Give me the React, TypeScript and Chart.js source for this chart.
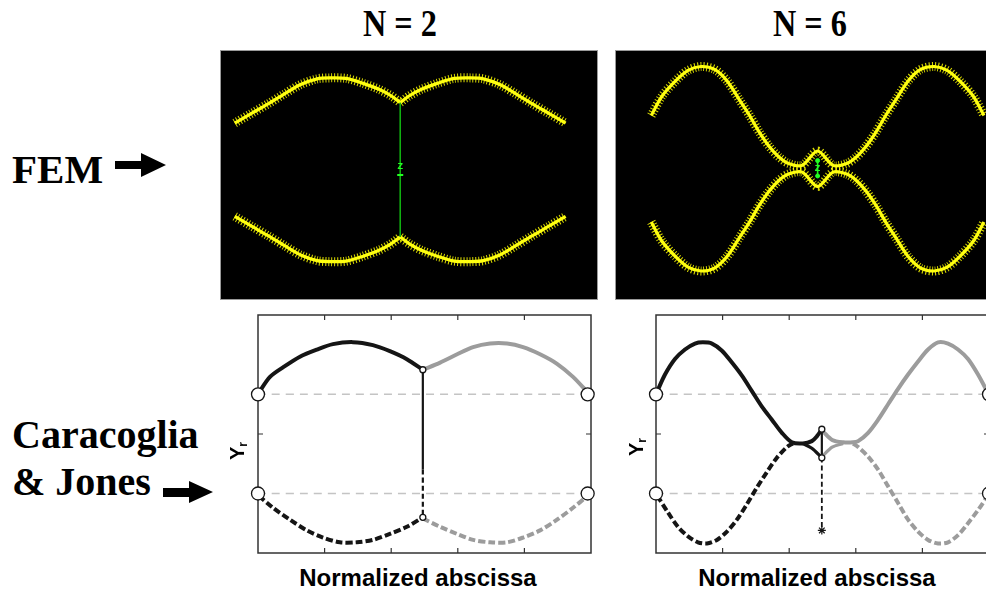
import React, { useEffect, useRef } from 'react';
import { Chart, registerables } from 'chart.js';
Chart.register(...registerables);

type P = [number, number];

// ---------- FEM, N = 2 (normalized x 0..1, y 0..1) ----------
const femN2UpperLeft: P[] = [[0.024,0.718],[0.071,0.76],[0.116,0.80],[0.159,0.84],[0.204,0.88],[0.249,0.904],[0.283,0.908],[0.328,0.906],[0.373,0.886],[0.418,0.86],[0.452,0.832],[0.476,0.804]];
const femN2UpperRight: P[] = [[0.476,0.804],[0.500,0.832],[0.534,0.86],[0.579,0.886],[0.624,0.906],[0.669,0.908],[0.703,0.904],[0.748,0.88],[0.793,0.84],[0.836,0.80],[0.881,0.76],[0.928,0.718]];
const femN2LowerLeft: P[] = [[0.024,0.326],[0.071,0.284],[0.116,0.244],[0.159,0.204],[0.204,0.164],[0.249,0.14],[0.283,0.136],[0.328,0.138],[0.373,0.158],[0.418,0.184],[0.452,0.212],[0.476,0.24]];
const femN2LowerRight: P[] = [[0.476,0.24],[0.500,0.212],[0.534,0.184],[0.579,0.158],[0.624,0.138],[0.669,0.136],[0.703,0.14],[0.748,0.164],[0.793,0.204],[0.836,0.244],[0.881,0.284],[0.928,0.326]];
const femN2Link: P[] = [[0.476,0.804],[0.476,0.24]];
const femN2Marker: P[] = [[0.476,0.536]];
const femN2Dash: P[] = [[0.476,0.50]];

// ---------- FEM, N = 6 ----------
const femN6Upper: P[] = [[0.085,0.748],[0.114,0.828],[0.151,0.892],[0.185,0.936],[0.220,0.952],[0.257,0.94],[0.291,0.892],[0.325,0.812],[0.352,0.748],[0.378,0.68],[0.405,0.62],[0.431,0.576],[0.458,0.548],[0.495,0.54],[0.537,0.60],[0.579,0.54],[0.616,0.548],[0.643,0.576],[0.669,0.62],[0.696,0.68],[0.722,0.748],[0.749,0.812],[0.783,0.892],[0.817,0.94],[0.854,0.952],[0.889,0.936],[0.923,0.892],[0.960,0.828],[0.989,0.748]];
const femN6Lower: P[] = [[0.085,0.304],[0.114,0.224],[0.151,0.16],[0.185,0.116],[0.220,0.10],[0.257,0.112],[0.291,0.16],[0.325,0.24],[0.352,0.304],[0.378,0.372],[0.405,0.432],[0.431,0.476],[0.458,0.504],[0.495,0.512],[0.537,0.452],[0.579,0.512],[0.616,0.504],[0.643,0.476],[0.669,0.432],[0.696,0.372],[0.722,0.304],[0.749,0.24],[0.783,0.16],[0.817,0.112],[0.854,0.10],[0.889,0.116],[0.923,0.16],[0.960,0.224],[0.989,0.304]];
const femN6Link: P[] = [[0.537,0.56],[0.537,0.496]];
const femN6Marker: P[] = [[0.537,0.528]];

// ---------- Caracoglia & Jones, N = 2 (x 0..1, y -1..1) ----------
const cjN2UpperBlack: P[] = [[0.003,0.35],[0.036,0.48],[0.075,0.56],[0.126,0.65],[0.177,0.71],[0.225,0.755],[0.285,0.772],[0.345,0.747],[0.396,0.696],[0.447,0.629],[0.495,0.54]];
const cjN2UpperGray: P[] = [[0.495,0.54],[0.547,0.60],[0.598,0.67],[0.646,0.73],[0.697,0.76],[0.748,0.76],[0.796,0.73],[0.847,0.67],[0.898,0.59],[0.946,0.48],[0.99,0.35]];
const cjN2LowerBlack: P[] = [[0.003,-0.52],[0.045,-0.62],[0.096,-0.72],[0.147,-0.81],[0.195,-0.87],[0.246,-0.91],[0.297,-0.91],[0.345,-0.89],[0.396,-0.84],[0.447,-0.78],[0.495,-0.70]];
const cjN2LowerGray: P[] = [[0.495,-0.71],[0.547,-0.78],[0.598,-0.84],[0.646,-0.89],[0.697,-0.91],[0.748,-0.91],[0.796,-0.87],[0.847,-0.81],[0.898,-0.72],[0.946,-0.62],[0.99,-0.52]];
const cjN2LinkSolid: P[] = [[0.495,0.54],[0.495,-0.30]];
const cjN2LinkDashed: P[] = [[0.495,-0.30],[0.495,-0.70]];
const cjN2Junctions: P[] = [[0.495,0.54],[0.495,-0.70]];
const cjN2Ends: P[] = [[0.0,0.333],[0.99,0.333],[0.0,-0.50],[0.99,-0.50]];

// ---------- Caracoglia & Jones, N = 6 ----------
const cjN6UpperBlack: P[] = [[0.004,0.36],[0.027,0.50],[0.057,0.63],[0.087,0.71],[0.117,0.76],[0.141,0.77],[0.168,0.76],[0.198,0.70],[0.228,0.60],[0.258,0.49],[0.288,0.36],[0.318,0.23],[0.348,0.12],[0.378,0.01],[0.408,-0.07],[0.441,-0.08],[0.468,-0.06],[0.483,-0.02],[0.498,0.04]];
const cjN6BranchBlack: P[] = [[0.441,-0.08],[0.468,-0.12],[0.498,-0.20]];
const cjN6LowerBlack: P[] = [[0.004,-0.52],[0.036,-0.66],[0.066,-0.78],[0.096,-0.86],[0.126,-0.91],[0.153,-0.92],[0.183,-0.89],[0.213,-0.82],[0.243,-0.72],[0.273,-0.59],[0.303,-0.45],[0.333,-0.32],[0.363,-0.20],[0.393,-0.11],[0.411,-0.08]];
const cjN6UpperGray: P[] = [[0.502,0.02],[0.529,-0.05],[0.562,-0.07],[0.592,-0.07],[0.607,-0.06],[0.637,0.01],[0.667,0.12],[0.697,0.25],[0.727,0.38],[0.757,0.50],[0.787,0.61],[0.817,0.71],[0.847,0.77],[0.877,0.76],[0.907,0.71],[0.937,0.63],[0.967,0.50],[0.996,0.35]];
const cjN6BranchGray: P[] = [[0.502,-0.18],[0.529,-0.11],[0.562,-0.08]];
const cjN6LowerGray: P[] = [[0.592,-0.08],[0.607,-0.11],[0.637,-0.19],[0.667,-0.30],[0.697,-0.44],[0.727,-0.58],[0.757,-0.72],[0.787,-0.82],[0.817,-0.89],[0.847,-0.92],[0.877,-0.91],[0.907,-0.85],[0.937,-0.75],[0.967,-0.64],[0.996,-0.52]];
const cjN6Link: P[] = [[0.498,0.04],[0.498,-0.20]];
const cjN6Drop: P[] = [[0.498,-0.20],[0.498,-0.81]];
const cjN6Star: P[] = [[0.498,-0.81]];
const cjN6Junctions: P[] = [[0.498,0.04],[0.498,-0.20]];
const cjN6Ends: P[] = [[0.0,0.333],[1.0,0.333],[0.0,-0.50],[1.0,-0.50]];

// shared axis info
const cjRefLevels = [0.333, -0.50];
const cjXTicks = [0.2, 0.4, 0.6, 0.8];
const cjYTicks = [0];

const BLACK = '#151515';
const GRAY = '#9c9c9c';
const YELLOW = '#ffff10';

const pts = (a: P[]) => a.map(([x, y]) => ({ x, y }));

function line(data: P[], color: string, width: number, dash: number[] = []) {
  return {
    data: pts(data), borderColor: color, borderWidth: width, borderDash: dash,
    pointRadius: 0, fill: false, tension: 0.3, clip: false as any, borderCapStyle: 'butt',
  };
}
function markers(data: P[], radius: number, style: string = 'circle', fillColor = '#fff', borderColor = BLACK, bw = 1.3) {
  return {
    data: pts(data), showLine: false, pointRadius: radius, pointStyle: style,
    pointBackgroundColor: fillColor, pointBorderColor: borderColor, pointBorderWidth: bw, clip: false as any,
  };
}
function femCurve(data: P[]) {
  return [
    line(data, YELLOW, 3.2),
    { ...line(data, 'rgba(255,255,0,0.85)', 9, [1, 2]) },
  ];
}

const femBackground = {
  id: 'femBg',
  beforeDraw(chart: any) {
    const { ctx, width, height } = chart;
    ctx.save();
    ctx.fillStyle = '#000';
    ctx.fillRect(0, 0, width, height);
    ctx.strokeStyle = '#9a9a9a';
    ctx.lineWidth = 1;
    ctx.strokeRect(0.5, 0.5, width - 1, height - 1);
    ctx.restore();
  },
};

function zLabel(marks: P[]) {
  return {
    id: 'zLabel',
    afterDatasetsDraw(chart: any) {
      const { ctx } = chart;
      const xs = chart.scales.x, ys = chart.scales.y;
      ctx.save();
      ctx.fillStyle = '#22ff22';
      ctx.font = 'bold 9px "Liberation Sans"';
      ctx.textAlign = 'center';
      ctx.textBaseline = 'middle';
      marks.forEach(([x, y]) => ctx.fillText('Z', xs.getPixelForValue(x), ys.getPixelForValue(y)));
      ctx.restore();
    },
  };
}

const framePlugin = {
  id: 'frame',
  beforeDatasetsDraw(chart: any) {
    const { ctx, chartArea: a } = chart;
    const xs = chart.scales.x, ys = chart.scales.y;
    ctx.save();
    ctx.strokeStyle = '#333';
    ctx.lineWidth = 1.5;
    ctx.strokeRect(a.left, a.top, a.right - a.left, a.bottom - a.top);
    ctx.lineWidth = 1.2;
    ctx.beginPath();
    cjXTicks.forEach((t) => {
      const px = xs.getPixelForValue(t);
      ctx.moveTo(px, a.top); ctx.lineTo(px, a.top + 5);
      ctx.moveTo(px, a.bottom); ctx.lineTo(px, a.bottom - 5);
    });
    cjYTicks.forEach((t) => {
      const py = ys.getPixelForValue(t);
      ctx.moveTo(a.left, py); ctx.lineTo(a.left + 5, py);
      ctx.moveTo(a.right, py); ctx.lineTo(a.right - 5, py);
    });
    ctx.stroke();
    ctx.restore();
  },
};

function baseOptions(xmin: number, xmax: number, ymin: number, ymax: number, pad: number) {
  return {
    responsive: false,
    animation: false,
    events: [],
    layout: { padding: pad },
    plugins: { legend: { display: false }, tooltip: { enabled: false } },
    scales: {
      x: { type: 'linear', min: xmin, max: xmax, display: false },
      y: { type: 'linear', min: ymin, max: ymax, display: false },
    },
  };
}

function femN2Config() {
  return {
    type: 'line',
    data: {
      datasets: [
        markers(femN2Dash, 3, 'line', '#22ff22', '#22ff22', 2),
        line(femN2Link, '#10b010', 1.6),
        ...femCurve(femN2UpperLeft), ...femCurve(femN2UpperRight),
        ...femCurve(femN2LowerLeft), ...femCurve(femN2LowerRight),
      ],
    },
    options: baseOptions(0, 1, 0, 1, 0),
    plugins: [femBackground, zLabel(femN2Marker)],
  };
}

function femN6Config() {
  return {
    type: 'line',
    data: {
      datasets: [
        markers(femN6Link, 2, 'circle', '#22ff22', '#22ff22', 1),
        line(femN6Link, '#22ee22', 1.6),
        ...femCurve(femN6Upper), ...femCurve(femN6Lower),
      ],
    },
    options: baseOptions(0, 1, 0, 1, 0),
    plugins: [femBackground, zLabel(femN6Marker)],
  };
}

function refLines() {
  return cjRefLevels.map((v) => line([[0, v], [1, v]], '#c4c4c4', 1.5, [8, 6]));
}

function cjN2Config() {
  return {
    type: 'line',
    data: {
      datasets: [
        markers(cjN2Ends, 6.5),
        markers(cjN2Junctions, 3),
        line(cjN2LinkSolid, BLACK, 2.2),
        line(cjN2LinkDashed, BLACK, 2.2, [5, 3]),
        line(cjN2UpperBlack, BLACK, 4),
        line(cjN2LowerBlack, BLACK, 4, [7, 3]),
        line(cjN2UpperGray, GRAY, 4),
        line(cjN2LowerGray, GRAY, 4, [7, 3]),
        ...refLines(),
      ],
    },
    options: baseOptions(0, 1, -1, 1, 10),
    plugins: [framePlugin],
  };
}

function cjN6Config() {
  return {
    type: 'line',
    data: {
      datasets: [
        markers(cjN6Ends, 6.5),
        markers(cjN6Junctions, 3),
        markers(cjN6Star, 4, 'star', BLACK, BLACK, 1.2),
        line(cjN6Link, BLACK, 2.2),
        line(cjN6Drop, BLACK, 1.8, [5, 3]),
        line(cjN6UpperBlack, BLACK, 4),
        line(cjN6BranchBlack, BLACK, 3.2),
        line(cjN6LowerBlack, BLACK, 4, [7, 3]),
        line(cjN6UpperGray, GRAY, 4),
        line(cjN6BranchGray, GRAY, 3.2),
        line(cjN6LowerGray, GRAY, 4, [7, 3]),
        ...refLines(),
      ],
    },
    options: baseOptions(0, 1, -1, 1, 10),
    plugins: [framePlugin],
  };
}

function ChartBox({ left, top, width, height, make }: { left: number; top: number; width: number; height: number; make: () => any }) {
  const ref = useRef<HTMLCanvasElement>(null);
  useEffect(() => {
    const chart = new Chart(ref.current as HTMLCanvasElement, make());
    return () => chart.destroy();
  }, []);
  return (
    <canvas ref={ref} width={width} height={height}
      style={{ position: 'absolute', left, top, width, height }} />
  );
}

const serif = '"Liberation Serif", "Times New Roman", serif';
const sans = '"Liberation Sans", Arial, sans-serif';

function Label({ left, top, size, children, align = 'left', width, scaleX = 1 }: any) {
  return (
    <div style={{
      position: 'absolute', left, top, width, fontFamily: serif, fontWeight: 'bold',
      fontSize: size, lineHeight: `${size}px`, whiteSpace: 'nowrap', textAlign: align, color: '#000',
      transform: scaleX !== 1 ? `scaleX(${scaleX})` : undefined,
    }}>{children}</div>
  );
}

function YLabel({ cx, cy }: { cx: number; cy: number }) {
  return (
    <div style={{
      position: 'absolute', left: cx - 20, top: cy - 12, width: 40, height: 24,
      display: 'flex', alignItems: 'center', justifyContent: 'center',
      transform: 'rotate(-90deg)', fontFamily: sans, fontWeight: 'bold', fontSize: 20, color: '#000',
    }}>
      <span>Y</span><span style={{ fontSize: 12, position: 'relative', top: 6 }}>r</span>
    </div>
  );
}

function XLabel({ cx }: { cx: number }) {
  return (
    <div style={{
      position: 'absolute', left: cx - 150, top: 566, width: 300, textAlign: 'center',
      fontFamily: sans, fontWeight: 'bold', fontSize: 24, lineHeight: '24px', color: '#000',
    }}>Normalized abscissa</div>
  );
}

export default function App() {
  return (
    <div style={{ position: 'fixed', left: 0, top: 0, width: 986, height: 594, overflow: 'hidden', background: '#fff' }}>
      <Label left={300} top={4} width={200} size={38} align="center" scaleX={0.85}>N = 2</Label>
      <Label left={710} top={4} width={200} size={38} align="center" scaleX={0.85}>N = 6</Label>

      <Label left={12} top={149} size={41}>FEM</Label>
      <Label left={12} top={415} size={40}>Caracoglia</Label>
      <Label left={12} top={462} size={40}>&amp; Jones</Label>

      <svg width={986} height={594} style={{ position: 'absolute', left: 0, top: 0 }}>
        <polygon points="115,161 141,161 141,153 166,165 141,177 141,169 115,169" fill="#000" />
        <polygon points="163,488 189,488 189,481 213,492 189,503 189,497 163,497" fill="#000" />
      </svg>

      <ChartBox left={220} top={50} width={378} height={250} make={femN2Config} />
      <ChartBox left={615} top={50} width={378} height={250} make={femN6Config} />
      <ChartBox left={248} top={305} width={353} height={258} make={cjN2Config} />
      <ChartBox left={646} top={305} width={353} height={258} make={cjN6Config} />

      <YLabel cx={237} cy={451} />
      <YLabel cx={636} cy={447} />
      <XLabel cx={418} />
      <XLabel cx={817} />
    </div>
  );
}
